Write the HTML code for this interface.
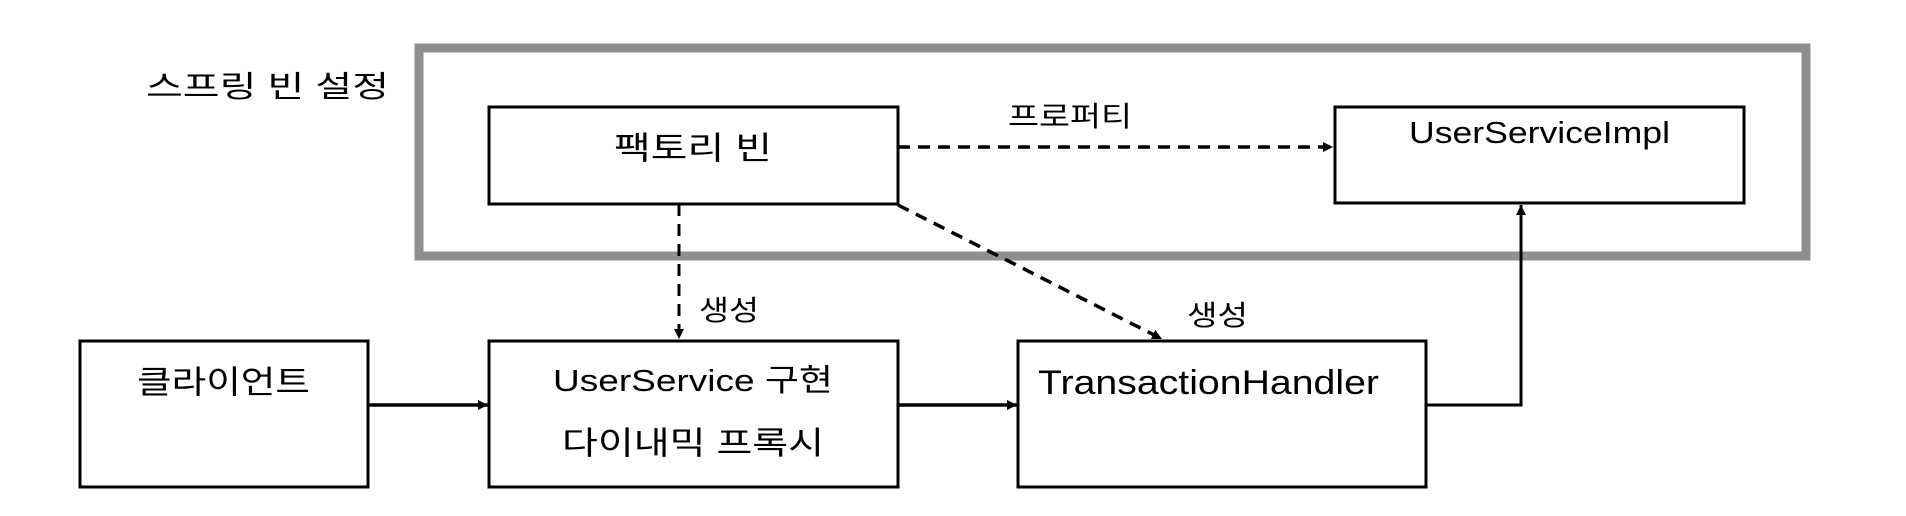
<!DOCTYPE html>
<html><head><meta charset="utf-8"><style>
html,body{margin:0;padding:0;background:#fff;}
svg{display:block;}
text{font-family:"Liberation Sans","Noto Sans CJK KR",sans-serif;fill:#000;}
</style></head><body>
<svg width="1906" height="516" viewBox="0 0 1906 516" xmlns="http://www.w3.org/2000/svg">
<defs>
<marker id="ah" markerWidth="10" markerHeight="10" refX="10" refY="5" orient="auto" markerUnits="userSpaceOnUse" viewBox="0 0 10 10">
<path d="M0,0 L10,5 L0,10 z" fill="#000"/>
</marker>
</defs>
<rect x="419" y="48" width="1387" height="208" fill="none" stroke="#8f8f8f" stroke-width="9"/>
<text x="146" y="97" font-size="30" textLength="243" lengthAdjust="spacingAndGlyphs">스프링 빈 설정</text>

<rect x="489" y="107" width="409" height="97" fill="#fff" stroke="#000" stroke-width="3"/>
<text x="614" y="159" font-size="32" textLength="158" lengthAdjust="spacingAndGlyphs">팩토리 빈</text>

<rect x="1335" y="107" width="409" height="96" fill="#fff" stroke="#000" stroke-width="3"/>
<text x="1409" y="143" font-size="31" textLength="261" lengthAdjust="spacingAndGlyphs">UserServiceImpl</text>

<text x="1008" y="126" font-size="28" textLength="124" lengthAdjust="spacingAndGlyphs">프로퍼티</text>

<rect x="80" y="341" width="288" height="146" fill="#fff" stroke="#000" stroke-width="3"/>
<text x="137" y="393" font-size="32" textLength="173" lengthAdjust="spacingAndGlyphs">클라이언트</text>

<rect x="489" y="341" width="409" height="146" fill="#fff" stroke="#000" stroke-width="3"/>
<text x="553" y="391" font-size="31" textLength="280" lengthAdjust="spacingAndGlyphs">UserService 구현</text>
<text x="562" y="454" font-size="32" textLength="262" lengthAdjust="spacingAndGlyphs">다이내믹 프록시</text>

<rect x="1018" y="341" width="408" height="146" fill="#fff" stroke="#000" stroke-width="3"/>
<text x="1038" y="394" font-size="34" textLength="341" lengthAdjust="spacingAndGlyphs">TransactionHandler</text>

<!-- dashed arrows -->
<line x1="898" y1="147" x2="1333" y2="147" stroke="#000" stroke-width="3.5" stroke-dasharray="12,8" marker-end="url(#ah)"/>
<line x1="679" y1="204" x2="679" y2="339" stroke="#000" stroke-width="3" stroke-dasharray="12,8" marker-end="url(#ah)"/>
<line x1="898" y1="205" x2="1162" y2="339" stroke="#000" stroke-width="3.5" stroke-dasharray="12,8" marker-end="url(#ah)"/>
<text x="699" y="320" font-size="28" textLength="60" lengthAdjust="spacingAndGlyphs">생성</text>
<text x="1187" y="325" font-size="28" textLength="61" lengthAdjust="spacingAndGlyphs">생성</text>

<!-- solid arrows -->
<line x1="368" y1="405" x2="488" y2="405" stroke="#000" stroke-width="3.5" marker-end="url(#ah)"/>
<line x1="898" y1="405" x2="1017" y2="405" stroke="#000" stroke-width="3.5" marker-end="url(#ah)"/>
<polyline points="1426,405 1521,405 1521,205" fill="none" stroke="#000" stroke-width="3" marker-end="url(#ah)"/>
</svg>
</body></html>
